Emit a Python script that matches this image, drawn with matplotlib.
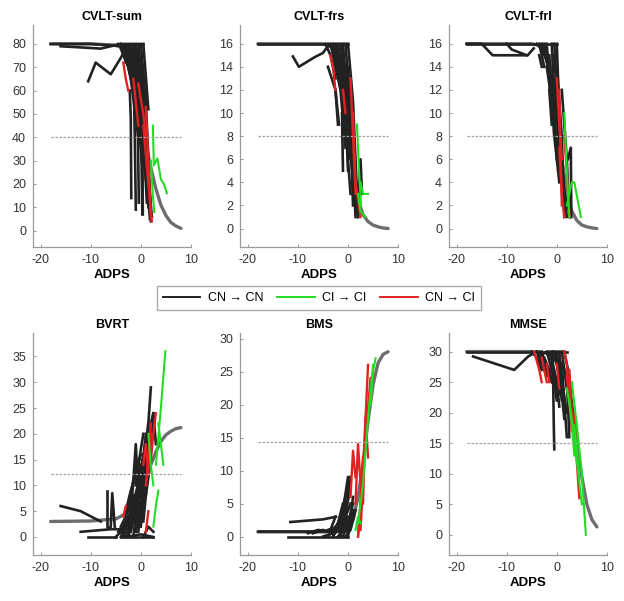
import matplotlib
matplotlib.use("Agg")
import matplotlib.pyplot as plt
from matplotlib.lines import Line2D

plt.rcParams["font.family"] = ["Liberation Sans", "DejaVu Sans"]
plt.rcParams["axes.unicode_minus"] = False

BLACK = "#222222"
GREEN = "#22dd22"
RED = "#e02222"
FIT = "#6e6e6e"

# trajectories per panel: (ADPS values, score values)
sum_cn = [
    ([-18, -10, -4, -2.5], [80, 80, 79, 77]),
    ([-16, -8, -4], [79, 78, 80]),
    ([-10.5, -9, -6, -4, -3], [64, 72, 67, 74, 78]),
    ([-4, -1], [80, 80]),
    ([-3, 0.5], [80, 80]),
    ([-4.5, -3, -2], [80, 79, 71]),
    ([-4, -2.5, -1], [78, 70, 56]),
    ([-3.5, -2, -0.5], [80, 65, 40]),
    ([-3, -1.5, 0], [79, 62, 38]),
    ([-2.2, -2.0, -1.9], [60, 48, 14]),
    ([-1.5, -1.2, -1.0], [72, 40, 9]),
    ([-1, 0, 0.3], [75, 50, 7]),
    ([-2.5, -1, 0.5, 1.5], [80, 66, 40, 20]),
    ([-0.5, 0.5, 1.5], [80, 60, 25]),
    ([0, 1, 2], [80, 55, 8]),
    ([-1, 0.5, 1.8], [79, 48, 5]),
    ([-2, -0.5, 1], [77, 55, 30]),
    ([-3, -2, -0.8], [80, 72, 50]),
    ([-1.5, 0, 1.2], [80, 62, 12]),
    ([0.5, 1.5], [80, 52]),
    ([-0.8, 0.2, 1.0, 2.0], [78, 60, 35, 4]),
    ([-4, -3, -1.5], [79, 76, 63]),
    ([-4, -3.5, -3], [80, 77, 72]),
    ([-3.5, -2.5, -1.5], [79, 73, 60]),
    ([-2.5, -1.5, -0.5], [79, 70, 52]),
    ([-2, -1, 0], [80, 68, 45]),
    ([-1.5, -0.5, 0.5], [78, 62, 35]),
    ([-1, 0, 1], [80, 58, 22]),
    ([-0.5, 0.5, 1.5], [76, 45, 15]),
    ([0, 1, 1.5], [70, 38, 10]),
    ([-2.8, -1.8, -0.8], [76, 64, 48]),
    ([-1.8, -0.8, 0.2], [74, 55, 30]),
    ([-0.3, 0.7, 1.7], [66, 42, 18]),
    ([0.2, 1.2, 2.2], [60, 30, 6]),
    ([-3.2, -2.2, -1.2], [78, 68, 58]),
    ([-1.2, -0.2, 0.8], [70, 52, 26]),
    ([-0.6, -0.4], [45, 12]),
    ([0.3, 0.4], [40, 7]),
]
sum_ci = [
    ([2.4, 2.6, 3.3, 4.0, 4.6, 5.2], [45, 28, 31, 22, 20, 16]),
    ([2.0, 2.4, 2.7], [30, 15, 8]),
]
sum_cnci = [
    ([-3.5, -3, -2.5], [72, 65, 60]),
    ([-0.5, 0.5, 1], [63, 50, 40]),
    ([1, 1.5, 2], [53, 30, 5]),
    ([0.5, 1.5, 2.2], [45, 20, 4]),
    ([-1.5, -0.5], [65, 45]),
]
sum_fit_x = [-18, -10, -5, -3, -2, -1, 0, 1, 2, 3, 4, 5, 6, 7, 8]
sum_fit_y = [80, 80, 79.5, 78, 75, 68, 52, 37, 27, 18, 11, 6.5, 3.5, 2, 1]

frs_cn = [
    ([-18, -5, 0], [16, 16, 16]),
    ([-11, -9.8, -6.8, -5, -4], [14.9, 14, 14.8, 15.2, 15.8]),
    ([-4.5, -3.5, -2.5], [16, 15, 13]),
    ([-4, -2.5, -1.8], [14, 12, 9]),
    ([-3, -1.5, -0.5], [16, 13, 11]),
    ([-2, -1, 0], [16, 13, 10]),
    ([-1, -0.5, 0], [14, 10, 5]),
    ([-1.5, 0, 1], [16, 11, 6]),
    ([-0.5, 0.5, 1.5], [16, 10, 3]),
    ([0, 0.8, 1.5], [14, 8, 1]),
    ([-1, 0, 1, 2], [15, 12, 6, 2]),
    ([0, 1, 2], [16, 11, 1]),
    ([-2.5, -1.5, -0.5], [15.5, 12, 7]),
    ([2, 2.5, 2.8], [2, 6, 3]),
    ([-1, 0.5], [12, 8]),
    ([0.5, 1, 1.2], [13, 9, 3]),
    ([-3.5, -2.5, -1.5], [16, 14, 12]),
    ([-2.5, -1.5, -0.5], [16, 14, 9]),
    ([-2, -1, 0], [15, 12, 8]),
    ([-1.5, -0.5, 0.5], [15, 11, 6]),
    ([-1, 0, 1], [16, 10, 4]),
    ([-0.5, 0.5, 1], [14, 9, 2]),
    ([0, 0.5, 1.5], [12, 7, 2]),
    ([-2.5, -2], [12, 9]),
    ([-1.2, -1], [10, 5]),
    ([-0.3, 0.2], [13, 10]),
    ([0.5, 1, 2], [8, 4, 1]),
    ([-4, -3, -2], [16, 15.5, 14]),
    ([-0.5, 0, 0.5], [10, 6, 3]),
]
frs_ci = [
    ([1.8, 2.2, 2.6], [9, 5, 2]),
    ([2.5, 3, 4], [4, 3, 3]),
    ([2, 2.5, 3.5], [3, 1.5, 1]),
]
frs_cnci = [
    ([-3.5, -3, -2.5], [15, 14, 12]),
    ([0.5, 1, 1.5], [13, 8, 3]),
    ([1, 1.5, 2.5], [10, 4, 1]),
    ([-1, -0.5], [12, 10]),
]
frs_fit_x = [-18, -5, -3, -2, -1, 0, 1, 2, 3, 4, 5, 6, 7, 8]
frs_fit_y = [16, 16, 15.7, 15, 13.5, 10, 6, 2.5, 1.2, 0.6, 0.3, 0.15, 0.05, 0]

frl_cn = [
    ([-18, -5, 0], [16, 16, 16]),
    ([-18, -15, -12.8, -5.8, -4.6], [16, 16, 15, 15, 15.6]),
    ([-10, -9, -6], [16, 15.5, 15]),
    ([-3.5, -3, -2.5], [16, 15, 14]),
    ([-2, -1.5, -1], [16, 13, 10]),
    ([-1.5, -1, -0.5], [15, 12, 8]),
    ([-1, -0.5, 0], [16, 11, 6]),
    ([-0.5, 0, 0.5], [16, 12, 5]),
    ([0, 0.5, 1], [16, 10, 4]),
    ([0, 1, 1.5], [14, 8, 1]),
    ([-0.5, 0.5, 1.5], [13, 7, 2]),
    ([1, 2, 2.5], [12, 6, 1]),
    ([2.2, 2.8, 2.9], [6, 7, 1]),
    ([-1.5, -0.5, 0.5], [14, 9, 5]),
    ([-3, -2, -1], [16, 14.5, 12]),
    ([-2.5, -1.5, -0.5], [16, 13, 9]),
    ([-2, -1, 0], [14, 11, 7]),
    ([-1, -0.5, 0.5], [13, 8, 4]),
    ([-0.5, 0.5, 1.5], [15, 9, 3]),
    ([0, 0.5, 1.5], [11, 6, 2]),
    ([-1.5, -1], [12, 9]),
    ([0.5, 1, 2], [9, 5, 1]),
    ([-4, -3, -2], [16, 15.5, 14.5]),
    ([-3.5, -3], [15, 14]),
    ([1, 1.5, 2.8], [6, 3, 1]),
]
frl_ci = [
    ([1.5, 2, 2.5], [10, 5, 1]),
    ([2, 3, 3.5, 4.8], [2, 4, 4, 1]),
]
frl_cnci = [
    ([0, 0.5, 1], [13, 9, 6]),
    ([0.5, 1, 1.5], [7, 3, 1]),
    ([1.5, 2, 2.5], [8, 5, 1]),
    ([0.5, 1], [12, 2]),
]
frl_fit_x = [-18, -5, -3, -2, -1, 0, 1, 2, 3, 4, 5, 6, 7, 8]
frl_fit_y = [16, 16, 15.8, 15.2, 13.5, 10, 6, 3, 1.5, 0.7, 0.3, 0.15, 0.05, 0]

bvrt_cn = [
    ([-16, -12, -8], [6, 5, 3]),
    ([-12, -6, -4], [1, 1.5, 1.5]),
    ([-10.5, -5], [0, 0]),
    ([-6.8, -6.8, -6.2], [9, 2, 2]),
    ([-6, -5.7, -5.2], [2, 8.5, 2]),
    ([-4, -2, 0], [0, 5, 12]),
    ([-3, -1, 1], [2, 8, 18]),
    ([-2, 0, 1], [1, 10, 20]),
    ([-1, 0, 1], [3, 12, 19]),
    ([-1.5, -0.5, 0.5], [0, 8, 16]),
    ([0, 1, 2], [5, 15, 29]),
    ([-2, -1, -0.6], [4, 18, 10]),
    ([1, 2, 2.5], [8, 20, 24]),
    ([-3, -2, -1], [0, 3, 7]),
    ([-5, -3, -1], [0, 2, 4]),
    ([-4, -1, 2.5], [0, 0, 0]),
    ([-3, 0, 2.5], [0, 0.5, 0]),
    ([2, 2.5, 3], [22, 24, 18]),
    ([-2.5, -1.5, -0.5], [6, 11, 14]),
    ([0.5, 1.5, 2.5], [10, 20, 23]),
    ([-0.5, 0.5, 1.5], [1, 9, 14]),
    ([-4, -3, -2], [2, 4, 7]),
    ([-3.5, -2.5, -1.5], [0, 3, 8]),
    ([-2.5, -1.5, -0.5], [1, 5, 10]),
    ([-2, -1, 0], [2, 7, 14]),
    ([-1.5, -0.5, 0.5], [3, 9, 15]),
    ([-1, 0, 1], [1, 6, 11]),
    ([-0.5, 0.5, 1.5], [4, 11, 17]),
    ([0, 0.5, 1], [2, 7, 12]),
    ([0.5, 1, 2], [3, 8, 15]),
    ([-3, -2, -1], [5, 9, 12]),
    ([-2, -1, 0], [8, 13, 16]),
    ([-1, 0, 0.5], [10, 17, 20]),
    ([0, 1, 1.5], [12, 18, 22]),
    ([1.5, 2, 2.5], [14, 19, 23]),
    ([-4.5, -3.5, -2.5], [1, 2, 4]),
    ([-2.5, -2, -1.5], [0, 2, 4]),
    ([0.5, 1.5, 2.5], [0, 2, 1]),
]
bvrt_ci = [
    ([3, 4, 4.9], [14, 25, 36]),
    ([3.5, 4, 4.5], [22, 18, 14]),
    ([2.5, 3, 3.5], [2, 6, 9]),
    ([1.5, 2, 2.5], [20, 14, 10]),
]
bvrt_cnci = [
    ([1, 1.5, 2], [10, 15, 22]),
    ([2, 2.5, 3], [15, 20, 24]),
    ([1, 1.5], [1, 5]),
    ([0.5, 1, 1.5, 2], [14, 18, 12, 20]),
    ([-3.5, -3], [4, 6]),
]
bvrt_fit_x = [-18, -10, -5, -3, -2, -1, 0, 1, 2, 3, 4, 5, 6, 7, 8]
bvrt_fit_y = [3, 3.1, 3.5, 4.5, 5.5, 7, 9, 11.5, 14, 16.5, 18.5, 19.8, 20.5, 21, 21.2]

bms_cn = [
    ([-18, -10, -4, 0], [0.8, 0.8, 0.8, 0.8]),
    ([-11.5, -5, -2.4], [2.2, 2.6, 3]),
    ([-12, -6, 0], [0, 0, 0]),
    ([-8, -6, -4], [0.5, 1, 0.8]),
    ([-3, -2, -1], [0, 2, 5]),
    ([-2, -1, 0], [1, 4, 9]),
    ([-1, -0.5, 0.5], [2, 6, 9]),
    ([-1.5, -0.5, 0.5], [0, 3, 5]),
    ([-4, -3, -2], [0, 1, 2]),
    ([0, 0.5, 1], [1, 3, 6]),
    ([-0.5, 0.5, 1.5], [0, 1, 4]),
    ([-5, -3, -1], [0, 0.5, 1]),
    ([-4, -2, 0], [1, 1.5, 2]),
    ([-3, -1.5, 0], [0, 2, 4]),
    ([-2.5, -1.5, -0.5], [1, 3, 6]),
    ([-2, -1, 0], [0, 1, 3]),
    ([-1.5, -0.5, 0.5], [1, 4, 7]),
    ([-1, 0, 1], [0, 2, 5]),
    ([-0.5, 0, 0.5], [3, 6, 9]),
    ([0, 0.5, 1], [0, 2, 4]),
    ([-3.5, -3, -2.5], [1, 2, 3]),
    ([-7, -5, -3], [0.5, 1, 0.5]),
]
bms_ci = [
    ([2, 3, 4, 5], [2, 8, 18, 26]),
    ([4.5, 5, 5.5], [20, 25, 27]),
    ([1.5, 2, 2.5], [1, 3, 2]),
]
bms_cnci = [
    ([0.5, 1, 1.5], [6, 13, 9]),
    ([1.5, 2, 2.5], [5, 14, 8]),
    ([2, 3, 4], [0, 10, 26]),
    ([2.5, 3.5, 4.5], [1, 15, 24]),
    ([3, 3.5, 4], [5, 18, 12]),
    ([2, 2.5, 3], [0, 5, 12]),
]
bms_fit_x = [-18, -10, -5, -2, 0, 1, 2, 3, 3.5, 4, 5, 6, 7, 8]
bms_fit_y = [0.7, 0.7, 0.7, 0.8, 1.2, 2.5, 6, 11, 14.3, 17.5, 23, 26.3, 27.6, 28]

mmse_cn = [
    ([-18, -5, 0, 2], [30, 30, 30, 30]),
    ([-16.7, -8.5, -5.7, -4], [29.2, 27, 29.2, 30]),
    ([-4, -3, -2], [30, 28, 26]),
    ([-3, -2, -1], [30, 27, 25]),
    ([-0.8, -0.6, -0.5], [30, 18, 14]),
    ([-1, -0.5, 0], [29, 25, 22]),
    ([0, 0.5, 1], [30, 26, 22]),
    ([0.5, 1, 1.5], [30, 25, 21]),
    ([1, 1.5, 2], [28, 22, 16]),
    ([-2, -1, 0], [30, 27, 24]),
    ([-1, 0, 1], [30, 28, 24]),
    ([1.5, 2.5, 3.5], [30, 26, 17]),
    ([2, 2.3, 2.5], [25, 20, 16]),
    ([-5, -4, -3], [30, 29, 27]),
    ([-3.5, -2.5, -1.5], [30, 28, 26]),
    ([-2.5, -1.5, -0.5], [29, 27, 24]),
    ([-1.5, -0.5, 0.5], [30, 27, 23]),
    ([-0.5, 0.5, 1.5], [30, 26, 21]),
    ([0, 1, 2], [29, 25, 20]),
    ([1, 1.5, 2], [30, 27, 24]),
    ([-1, 0, 0.5], [28, 25, 21]),
    ([0.5, 1, 1.5], [27, 23, 19]),
    ([-4, -2, 0], [30, 30, 30]),
]
mmse_ci = [
    ([2, 3, 4, 5], [24, 19, 12, 5]),
    ([3, 4, 5, 5.8], [25, 18, 10, 0]),
    ([2.5, 3, 3.5], [22, 18, 13]),
    ([3.5, 4, 4.5], [18, 14, 9]),
]
mmse_cnci = [
    ([-4.5, -3.5, -3], [30, 27, 25]),
    ([-2, -1.5], [28, 25]),
    ([1.5, 2, 2.5], [30, 28, 22]),
    ([2.5, 3, 4], [27, 20, 13]),
    ([3.5, 4, 4.5], [20, 12, 6]),
    ([0, 0.5], [28, 24]),
    ([-3, -2.5, -2], [29, 27, 25]),
    ([2, 2.5, 3], [26, 22, 17]),
]
mmse_fit_x = [-18, -10, -5, -2, 0, 1, 2, 3, 4, 5, 6, 7, 8]
mmse_fit_y = [30, 30, 30, 29.7, 29, 28, 26, 21, 15, 9.5, 5, 2.5, 1.3]

titles = ["CVLT-sum", "CVLT-frs", "CVLT-frl", "BVRT", "BMS", "MMSE"]
thresholds = [40, 8, 8, 12.2, 14.3, 15]
thr_x = [-18, 8]


def draw_panel(ax, title, cn, ci, cnci, fit_x, fit_y, thr, ylim, yticks):
    ax.plot(fit_x, fit_y, color=FIT, lw=2.4, zorder=1.5, solid_capstyle="round")
    for x, y in cn:
        ax.plot(x, y, color=BLACK, lw=1.9, zorder=2)
    for x, y in cnci:
        ax.plot(x, y, color=RED, lw=1.7, zorder=3)
    for x, y in ci:
        ax.plot(x, y, color=GREEN, lw=1.5, zorder=4)
    ax.plot(thr_x, [thr, thr], color="#a0a0a0", lw=0.9, ls=(0, (2, 1.2)), zorder=6)

    ax.set_xlim(-21.5, 10)
    ax.set_ylim(*ylim)
    ax.set_xticks([-20, -10, 0, 10])
    ax.set_yticks(yticks)
    ax.set_title(title, fontsize=9, fontweight="bold", pad=4)
    ax.set_xlabel("ADPS", fontsize=9.5, fontweight="bold", labelpad=2)
    for side in ("top", "right"):
        ax.spines[side].set_visible(False)
    for side in ("left", "bottom"):
        ax.spines[side].set_color("#9a9a9a")
        ax.spines[side].set_linewidth(0.9)
    ax.tick_params(direction="in", length=2, width=0.7, color="#9a9a9a",
                   labelsize=9, labelcolor="#333333", pad=5)


fig = plt.figure(figsize=(6.24, 6.01), dpi=100)

top_b, bot_b, h = 0.589, 0.0765, 0.369
lefts = [0.053, 0.385, 0.7196]
w = 0.253

panels = [
    (sum_cn, sum_ci, sum_cnci, sum_fit_x, sum_fit_y, (-7, 88), range(0, 81, 10)),
    (frs_cn, frs_ci, frs_cnci, frs_fit_x, frs_fit_y, (-1.6, 17.6), range(0, 17, 2)),
    (frl_cn, frl_ci, frl_cnci, frl_fit_x, frl_fit_y, (-1.6, 17.6), range(0, 17, 2)),
    (bvrt_cn, bvrt_ci, bvrt_cnci, bvrt_fit_x, bvrt_fit_y, (-3.5, 39.5), range(0, 36, 5)),
    (bms_cn, bms_ci, bms_cnci, bms_fit_x, bms_fit_y, (-2.8, 30.8), range(0, 31, 5)),
    (mmse_cn, mmse_ci, mmse_cnci, mmse_fit_x, mmse_fit_y, (-3.3, 33), range(0, 31, 5)),
]

for i, (cn, ci, cnci, fx, fy, ylim, yt) in enumerate(panels):
    bottom = top_b if i < 3 else bot_b
    ax = fig.add_axes([lefts[i % 3], bottom, w, h])
    draw_panel(ax, titles[i], cn, ci, cnci, fx, fy, thresholds[i], ylim, list(yt))

handles = [
    Line2D([], [], color=BLACK, lw=1.4),
    Line2D([], [], color=GREEN, lw=1.4),
    Line2D([], [], color=RED, lw=1.4),
]
labels = ["CN \u2192 CN", "CI \u2192 CI", "CN \u2192 CI"]
fig.legend(handles, labels, loc="center", bbox_to_anchor=(0.511, 0.504), ncol=3,
           fontsize=9, frameon=True, fancybox=False, edgecolor="#9a9a9a",
           handlelength=3.0, handletextpad=0.6, columnspacing=1.1, borderpad=0.5)

fig.savefig("out.png", dpi=100)
